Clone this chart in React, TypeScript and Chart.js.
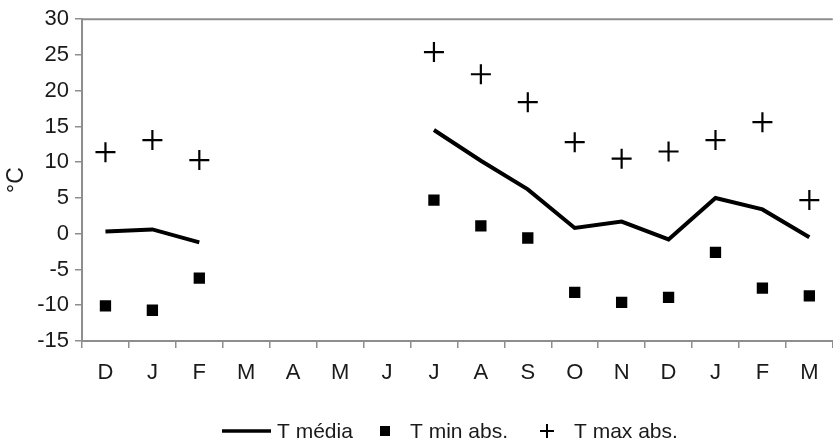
import { useEffect, useRef } from 'react';
import { Chart, registerables } from 'chart.js';

Chart.register(...registerables);

const months = ['D', 'J', 'F', 'M', 'A', 'M', 'J', 'J', 'A', 'S', 'O', 'N', 'D', 'J', 'F', 'M'];
const tMedia = [0.3, 0.6, -1.2, null, null, null, null, 14.5, 10.2, 6.2, 0.8, 1.7, -0.8, 5.0, 3.4, -0.5];
const tMinAbs = [-10.1, -10.7, -6.2, null, null, null, null, 4.7, 1.1, -0.6, -8.2, -9.6, -8.9, -2.6, -7.6, -8.7];
const tMaxAbs = [11.4, 13.1, 10.3, null, null, null, null, 25.4, 22.3, 18.4, 12.8, 10.5, 11.5, 13.1, 15.6, 4.7];
const seriesNames = ['T média', 'T min abs.', 'T max abs.'];
const yMin = -15;
const yMax = 30;
const yStep = 5;
const yTitle = '°C';

const FONT = '"Liberation Sans", Arial, sans-serif';
const AXIS_GRAY = '#8e8e8e';
const TEXT = '#1a1a1a';

const frameAndLegend = {
  id: 'frameAndLegend',
  afterDraw(chart: any) {
    const { ctx, chartArea } = chart;
    ctx.save();
    // top frame line
    ctx.strokeStyle = AXIS_GRAY;
    ctx.lineWidth = 2;
    ctx.beginPath();
    ctx.moveTo(chartArea.left, chartArea.top);
    ctx.lineTo(chartArea.right, chartArea.top);
    ctx.stroke();

    // legend
    const y = 431;
    ctx.fillStyle = TEXT;
    ctx.strokeStyle = '#000';
    ctx.font = `21px ${FONT}`;
    ctx.textBaseline = 'middle';
    ctx.textAlign = 'left';
    // line sample
    ctx.lineWidth = 3.5;
    ctx.beginPath();
    ctx.moveTo(222, y);
    ctx.lineTo(271, y);
    ctx.stroke();
    ctx.fillText(seriesNames[0], 277, y + 1);
    // square sample
    ctx.fillStyle = '#000';
    ctx.fillRect(385 - 5, y - 5, 10, 10);
    ctx.fillStyle = TEXT;
    ctx.fillText(seriesNames[1], 410, y + 1);
    // plus sample
    ctx.lineWidth = 2;
    ctx.beginPath();
    ctx.moveTo(547 - 7, y);
    ctx.lineTo(547 + 7, y);
    ctx.moveTo(547, y - 7);
    ctx.lineTo(547, y + 7);
    ctx.stroke();
    ctx.fillText(seriesNames[2], 574, y + 1);
    ctx.restore();
  },
};

export default function App() {
  const ref = useRef<HTMLCanvasElement>(null);

  useEffect(() => {
    document.body.style.margin = '0';
    document.body.style.overflow = 'hidden';
    const canvas = ref.current!;
    const chart = new Chart(canvas, {
      type: 'line',
      data: {
        labels: months,
        datasets: [
          {
            label: seriesNames[0],
            data: tMedia,
            borderColor: '#000',
            borderWidth: 4,
            pointRadius: 0,
            spanGaps: false,
            tension: 0,
          },
          {
            label: seriesNames[1],
            data: tMinAbs,
            showLine: false,
            pointStyle: 'rect',
            pointRadius: 8,
            backgroundColor: '#000',
            borderColor: '#000',
            borderWidth: 0,
          },
          {
            label: seriesNames[2],
            data: tMaxAbs,
            showLine: false,
            pointStyle: 'cross',
            pointRadius: 10,
            borderColor: '#000',
            borderWidth: 2.2,
          },
        ],
      },
      options: {
        responsive: false,
        animation: false,
        devicePixelRatio: 1,
        layout: { padding: { top: 19, right: 6, bottom: 0, left: 0 } },
        plugins: { legend: { display: false }, tooltip: { enabled: false } },
        scales: {
          x: {
            type: 'category',
            offset: true,
            grid: {
              offset: true,
              drawOnChartArea: false,
              drawTicks: true,
              tickLength: 7,
              color: AXIS_GRAY,
              lineWidth: 1.5,
            },
            border: { display: true, color: AXIS_GRAY, width: 2 },
            ticks: {
              color: TEXT,
              font: { family: FONT, size: 22 },
              padding: 12,
              maxRotation: 0,
              autoSkip: false,
            },
            afterFit: (scale: any) => {
              scale.height = 99;
            },
          },
          y: {
            min: yMin,
            max: yMax,
            grid: {
              drawOnChartArea: false,
              drawTicks: true,
              tickLength: 7,
              color: AXIS_GRAY,
              lineWidth: 1.5,
            },
            border: { display: true, color: AXIS_GRAY, width: 2 },
            ticks: {
              stepSize: yStep,
              color: TEXT,
              font: { family: FONT, size: 22 },
              padding: 6,
            },
            title: {
              display: true,
              text: yTitle,
              color: TEXT,
              font: { family: FONT, size: 23 },
              padding: { top: 3, bottom: 0 },
            },
            afterFit: (scale: any) => {
              scale.width = 82;
            },
          },
        },
      },
      plugins: [frameAndLegend],
    });
    return () => chart.destroy();
  }, []);

  return (
    <div style={{ position: 'absolute', left: 0, top: 0, width: 833, height: 440, overflow: 'hidden', background: '#fff' }}>
      <canvas ref={ref} width={845} height={440} style={{ display: 'block' }} />
    </div>
  );
}
